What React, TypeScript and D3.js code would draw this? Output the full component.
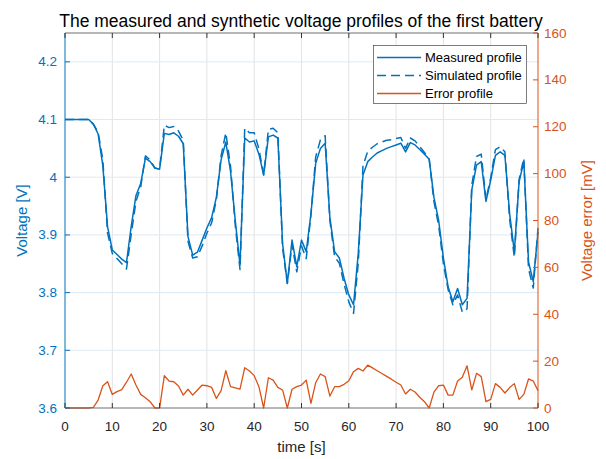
import React from "react";
import * as d3 from "d3";

const measured = [
  4.100, 4.100, 4.100, 4.100, 4.100, 4.100, 4.092, 4.075, 4.020, 3.914,
  3.874, 3.866, 3.858, 3.852, 3.915, 3.968, 3.989, 4.033, 4.027, 4.016,
  4.014, 4.076, 4.074, 4.077, 4.071, 4.058, 3.897, 3.865, 3.870, 3.891,
  3.912, 3.930, 3.965, 4.030, 4.061, 4.010, 3.925, 3.848, 4.068, 4.061,
  4.063, 4.040, 4.004, 4.070, 4.073, 4.068, 3.885, 3.816, 3.891, 3.845,
  3.891, 3.871, 3.937, 4.024, 4.050, 4.059, 3.930, 3.871, 3.860, 3.825,
  3.796, 3.779, 3.868, 4.004, 4.027, 4.035, 4.042, 4.046, 4.050, 4.053,
  4.056, 4.059, 4.044, 4.060, 4.056, 4.048, 4.040, 4.031, 3.965, 3.925,
  3.860, 3.810, 3.784, 3.807, 3.779, 3.790, 3.978, 4.021, 4.027, 3.958,
  3.995, 4.038, 4.044, 4.038, 3.937, 3.871, 3.992, 4.027, 3.853, 3.819,
  3.905,
];

const simulated = [
  4.100, 4.100, 4.100, 4.100, 4.100, 4.100, 4.092, 4.078, 4.030, 3.903,
  3.868, 3.859, 3.850, 3.841, 3.901, 3.958, 3.983, 4.037, 4.030, 4.016,
  4.014, 4.090, 4.086, 4.088, 4.080, 4.064, 3.889, 3.860, 3.862, 3.881,
  3.903, 3.921, 3.961, 4.037, 4.077, 4.019, 3.916, 3.840, 4.085, 4.077,
  4.077, 4.049, 4.004, 4.083, 4.085, 4.077, 3.877, 3.816, 3.883, 3.836,
  3.881, 3.859, 3.935, 4.035, 4.065, 4.072, 3.925, 3.862, 3.851, 3.815,
  3.784, 3.764, 3.851, 4.020, 4.045, 4.052, 4.058, 4.061, 4.064, 4.065,
  4.067, 4.069, 4.050, 4.068, 4.063, 4.053, 4.043, 4.031, 3.958, 3.916,
  3.850, 3.805, 3.779, 3.796, 3.766, 3.772, 3.986, 4.036, 4.040, 3.961,
  3.999, 4.048, 4.053, 4.044, 3.928, 3.861, 3.996, 4.033, 3.841, 3.808,
  3.912,
];

const errorMv = [
  0, 0, 0, 0, 0, 0, 0.3, 3.4, 9.5, 11.2,
  5.8, 7.0, 7.8, 11.0, 14.5, 9.8, 5.8, 4.4, 2.7, 0,
  0, 13.8, 11.5, 11.2, 9.4, 5.5, 8.0, 5.5, 7.7, 9.8,
  9.5, 8.8, 4.1, 7.4, 15.9, 9.1, 8.6, 8.1, 17.2, 15.8,
  13.8, 9.1, 0, 12.9, 11.9, 8.8, 7.7, 0, 8.0, 9.1,
  9.8, 11.9, 2.0, 10.8, 14.5, 13.4, 5.1, 9.1, 9.1, 10.1,
  11.6, 15.5, 16.9, 15.8, 18.3, 17.1, 15.9, 14.7, 13.5, 12.3,
  11.0, 9.8, 6.0, 8.0, 6.8, 4.6, 2.7, 0, 6.8, 9.5,
  9.8, 5.5, 5.5, 11.5, 13.1, 18.0, 7.7, 14.8, 13.4, 2.7,
  3.7, 10.4, 8.8, 6.4, 8.7, 10.4, 3.7, 5.8, 12.4, 11.5,
  7.4,
];

const timeSeconds = d3.range(0, 101);
const xTicks = [0, 10, 20, 30, 40, 50, 60, 70, 80, 90, 100];
const leftTicks = [3.6, 3.7, 3.8, 3.9, 4.0, 4.1, 4.2];
const rightTicks = [0, 20, 40, 60, 80, 100, 120, 140, 160];
const legendLabels = ["Measured profile", "Simulated profile", "Error profile"];

const BLUE = "#0072BD";
const ORANGE = "#D95319";
const FONT = "'Liberation Sans', Arial, Helvetica, sans-serif";

export default function App() {
  const W = 606, H = 459;
  const L = 65, R = 538, T = 33, B = 408;
  const x = d3.scaleLinear().domain([0, 100]).range([L, R]);
  const yL = d3.scaleLinear().domain([3.6, 4.25]).range([B, T]);
  const yR = d3.scaleLinear().domain([0, 160]).range([B, T]);

  const lineV = d3.line<number>().x((_, i) => x(timeSeconds[i])).y((d) => yL(d));
  const lineE = d3.line<number>().x((_, i) => x(timeSeconds[i])).y((d) => yR(d));

  const tick = 5;
  const fmtL = (v: number) => d3.format("")(+v.toFixed(1));

  const legX = 373.5, legY = 45.5, legW = 153, legH = 58;
  const rowY = [57.5, 75.5, 93.5];

  return (
    <svg width={W} height={H} style={{ position: "absolute", left: 0, top: 0, fontFamily: FONT }}>
      <rect x={0} y={0} width={W} height={H} fill="#fff" />
      {/* grid */}
      {xTicks.slice(1, -1).map((t) => (
        <line key={"gx" + t} x1={x(t)} x2={x(t)} y1={T} y2={B} stroke="#e3e3e3" strokeWidth={1} />
      ))}
      {leftTicks.slice(1).map((t) => (
        <line key={"gy" + t} x1={L} x2={R} y1={yL(t)} y2={yL(t)} stroke="#dceaf5" strokeWidth={1} />
      ))}
      {/* data */}
      <path d={lineV(measured) || ""} fill="none" stroke={BLUE} strokeWidth={1.5} strokeLinejoin="round" />
      <path d={lineV(simulated) || ""} fill="none" stroke={BLUE} strokeWidth={1.5} strokeDasharray="9 5" strokeLinejoin="round" />
      <path d={lineE(errorMv) || ""} fill="none" stroke={ORANGE} strokeWidth={1.3} strokeLinejoin="round" />
      {/* axes frame */}
      <line x1={L} x2={R} y1={B} y2={B} stroke="#6e6e6e" strokeWidth={1} />
      <line x1={L} x2={R} y1={T} y2={T} stroke="#6e6e6e" strokeWidth={1} />
      <line x1={L} x2={L} y1={T} y2={B} stroke={BLUE} strokeWidth={1} />
      <line x1={R} x2={R} y1={T} y2={B} stroke={ORANGE} strokeWidth={1} />
      {/* x ticks */}
      {xTicks.map((t) => (
        <g key={"xt" + t}>
          <line x1={x(t)} x2={x(t)} y1={B} y2={B - tick} stroke="#333" strokeWidth={1} />
          <line x1={x(t)} x2={x(t)} y1={T} y2={T + tick} stroke="#333" strokeWidth={1} />
          <text x={x(t)} y={431} textAnchor="middle" fontSize={13.5} fill="#262626">{t}</text>
        </g>
      ))}
      {/* left ticks */}
      {leftTicks.map((t) => (
        <g key={"lt" + t}>
          <line x1={L} x2={L + tick} y1={yL(t)} y2={yL(t)} stroke={BLUE} strokeWidth={1} />
          <text x={57} y={yL(t) + 4.5} textAnchor="end" fontSize={13.5} fill={BLUE}>{fmtL(t)}</text>
        </g>
      ))}
      {/* right ticks */}
      {rightTicks.map((t) => (
        <g key={"rt" + t}>
          <line x1={R} x2={R - tick} y1={yR(t)} y2={yR(t)} stroke={ORANGE} strokeWidth={1} />
          <text x={544} y={yR(t) + 4.5} textAnchor="start" fontSize={13.5} fill={ORANGE}>{t}</text>
        </g>
      ))}
      {/* labels */}
      <text x={(L + R) / 2} y={452} textAnchor="middle" fontSize={15} fill="#262626">time [s]</text>
      <text transform={`translate(27, ${(T + B) / 2}) rotate(-90)`} textAnchor="middle" fontSize={15} fill={BLUE}>Voltage [V]</text>
      <text transform={`translate(592, ${(T + B) / 2}) rotate(-90)`} textAnchor="middle" fontSize={15} fill={ORANGE}>Voltage error [mV]</text>
      <text x={301} y={27} textAnchor="middle" fontSize={17.5} fill="#000">The measured and synthetic voltage profiles of the first battery</text>
      {/* legend */}
      <rect x={legX} y={legY} width={legW} height={legH} fill="#fff" stroke="#262626" strokeWidth={0.6} />
      {legendLabels.map((lab, i) => (
        <g key={lab}>
          <line x1={377} x2={421} y1={rowY[i]} y2={rowY[i]}
            stroke={i === 2 ? ORANGE : BLUE} strokeWidth={i === 2 ? 1.3 : 1.5}
            strokeDasharray={i === 1 ? "9 5" : undefined} />
          <text x={425} y={rowY[i] + 4.5} fontSize={13} fill="#000">{lab}</text>
        </g>
      ))}
    </svg>
  );
}
